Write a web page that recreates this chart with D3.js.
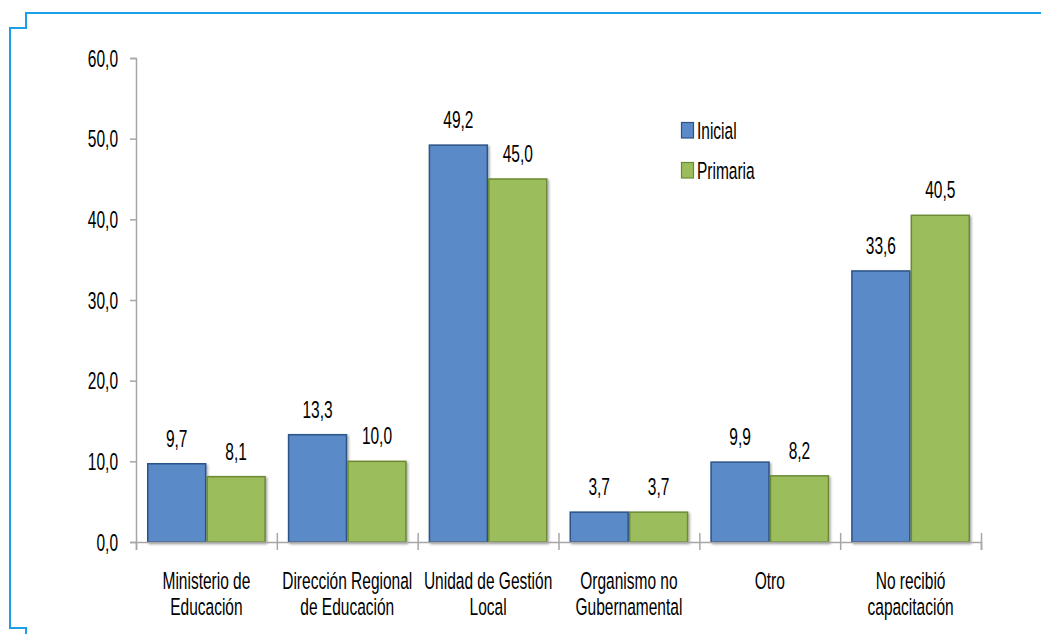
<!DOCTYPE html>
<html lang="es">
<head>
  <meta charset="utf-8">
  <title>Capacitación</title>
  <script src="https://d3js.org/d3.v7.min.js"></script>
  <style>
    body { margin: 0; background: #fff; }
    text { font-family: "Liberation Sans", Arial, sans-serif; font-size: 23.5px; fill: #000; }
  </style>
</head>
<body>
<svg id="chart" width="1041" height="634"></svg>
<script>
  const categories = [
    ["Ministerio de", "Educación"],
    ["Dirección Regional", "de Educación"],
    ["Unidad de Gestión", "Local"],
    ["Organismo no", "Gubernamental"],
    ["Otro"],
    ["No recibió", "capacitación"]
  ]
  const inicial = [9.7, 13.3, 49.2, 3.7, 9.9, 33.6]
  const primaria = [8.1, 10.0, 45.0, 3.7, 8.2, 40.5]
  const series = ["Inicial", "Primaria"]
  const yTicks = [0, 10, 20, 30, 40, 50, 60]

  const fills = ["#5A8AC8", "#9CBD5B"]
  const strokes = ["#2D5286", "#6C8A35"]
  const squeeze = 0.66   // the labels are set in a narrow face
  const fmt = v => d3.format(".1f")(v).replace(".", ",")

  const svg = d3.select("#chart")

  // put a narrow text at (x, y)
  function place(sel, fx, fy) {
    sel.attr("x", 0).attr("y", 0)
      .attr("transform", (d, i) => `translate(${fx(d, i)},${fy(d, i)}) scale(${squeeze},1)`)
  }

  // blue stepped frame
  svg.append("path")
    .attr("d", "M1041,13 H26 V28 H10 V628 H26 V634")
    .attr("fill", "none")
    .attr("stroke", "#1AA0E6")
    .attr("stroke-width", 2)

  const defs = svg.append("defs")
  const shadow = defs.append("filter").attr("id", "shadow")
    .attr("x", "-10%").attr("y", "-10%").attr("width", "130%").attr("height", "130%")
  shadow.append("feDropShadow")
    .attr("dx", 1.5).attr("dy", 1.5).attr("stdDeviation", 1.2)
    .attr("flood-color", "#000").attr("flood-opacity", 0.35)

  const x0 = d3.scaleBand()
    .domain(d3.range(categories.length))
    .range([136, 981])

  const x1 = d3.scaleBand()
    .domain(series)
    .range([11, x0.bandwidth() - 11])

  const y = d3.scaleLinear()
    .domain([0, 60])
    .range([542, 58])

  const rows = categories.map((c, i) => ({ i: i, values: [inicial[i], primaria[i]] }))

  const groups = svg.append("g")
    .selectAll("g")
    .data(rows)
    .enter()
    .append("g")
      .attr("transform", d => `translate(${x0(d.i)},0)`)

  groups.selectAll("rect")
    .data(d => d.values.map((v, k) => ({ k: k, v: v })))
    .enter()
    .append("rect")
      .attr("x", d => x1(series[d.k]) + 0.75)
      .attr("y", d => y(d.v))
      .attr("width", x1.bandwidth() - 1.5)
      .attr("height", d => y(0) - y(d.v))
      .attr("fill", d => fills[d.k])
      .attr("stroke", d => strokes[d.k])
      .attr("stroke-width", 1.5)
      .attr("filter", "url(#shadow)")

  groups.selectAll("text.val")
    .data(d => d.values.map((v, k) => ({ k: k, v: v })))
    .enter()
    .append("text")
      .attr("class", "val")
      .attr("text-anchor", "middle")
      .text(d => fmt(d.v))
      .call(place, d => x1(series[d.k]) + x1.bandwidth() / 2, d => y(d.v) - 17)

  // y axis
  const yAxis = svg.append("g")
    .attr("transform", "translate(136,0)")
    .call(d3.axisLeft(y).tickValues(yTicks).tickSize(6).tickFormat(fmt))
  yAxis.select(".domain").attr("stroke", "#A6A6A6").attr("stroke-width", 1.5)
  yAxis.selectAll(".tick line").attr("stroke", "#A6A6A6").attr("stroke-width", 1.5)
  yAxis.selectAll(".tick text")
    .attr("dy", null)
    .style("font-size", null)
    .style("font-family", null)
    .attr("font-size", null)
    .attr("font-family", null)
    .attr("fill", "#000")
    .attr("text-anchor", "end")
    .call(place, () => -18, () => 8)
  yAxis.attr("font-size", null).attr("font-family", null)

  // x axis with boundary ticks
  const xb = d3.scaleLinear().domain([0, categories.length]).range([136, 981])
  const xAxis = svg.append("g")
    .attr("transform", "translate(0,542)")
    .call(d3.axisBottom(xb).ticks(categories.length).tickSize(8).tickFormat(""))
  xAxis.select(".domain").attr("stroke", "#A6A6A6").attr("stroke-width", 1.5)
  xAxis.selectAll(".tick line")
    .attr("y1", -9)
    .attr("stroke", "#A6A6A6").attr("stroke-width", 1.5)
  xAxis.selectAll(".tick").filter(d => d === 0).select("line").attr("y1", 0)

  // category labels
  svg.append("g")
    .selectAll("text")
    .data(categories)
    .enter()
    .append("text")
      .attr("text-anchor", "middle")
      .call(place, (d, i) => x0(i) + x0.bandwidth() / 2, () => 589)
      .selectAll("tspan")
      .data(d => d)
      .enter()
      .append("tspan")
        .attr("x", 0)
        .attr("dy", (d, j) => j === 0 ? 0 : 26)
        .text(d => d)

  // legend
  const legend = svg.append("g")
    .selectAll("g")
    .data(series)
    .enter()
    .append("g")
      .attr("transform", (d, i) => `translate(681,${122 + i * 40})`)
  legend.append("rect")
    .attr("x", 0.5).attr("y", 0.5)
    .attr("width", 12).attr("height", 15.5)
    .attr("fill", (d, i) => fills[i])
    .attr("stroke", (d, i) => strokes[i])
    .attr("stroke-width", 1.2)
  legend.append("text")
    .call(place, () => 16, () => 16.5)
    .text(d => d)
</script>
</body>
</html>
